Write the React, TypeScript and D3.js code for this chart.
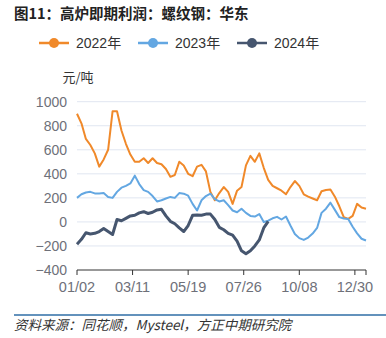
import React from "react";
import * as d3 from "d3";

const title = "图11：高炉即期利润：螺纹钢：华东";
const unitLabel = "元/吨";
const source = "资料来源：同花顺，Mysteel，方正中期研究院";
const xLabels = ["01/02", "03/11", "05/19", "07/26", "10/08", "12/30"];
const xLabelIdx = [0, 50, 100, 150, 200, 250];
const lastIdx = 260;
const step = 4;
const yTicks = [-400, -200, 0, 200, 400, 600, 800, 1000];
const seriesNames = ["2022年", "2023年", "2024年"];

const s2022 = [
  900, 820, 690, 640, 570, 460, 520, 600, 920, 920, 760, 650, 560, 500, 500, 530,
  490, 530, 490, 480, 440, 375, 390, 500, 470, 400, 380, 460, 475, 420, 250, 180,
  240, 290, 250, 150, 260, 290, 470, 550, 500, 570, 450, 350, 300, 280, 260, 230,
  290, 340, 300, 230, 210, 195, 180, 255, 265, 270, 210, 130, 40, 25, 50, 150,
  120, 110,
];
const s2023 = [
  200, 230, 245, 250, 237, 237, 240, 208, 200, 250, 285, 300, 320, 385, 315, 265,
  250, 215, 170, 180, 195, 208, 200, 240, 235, 218, 150, 95, 180, 215, 235, 190,
  170, 180, 140, 95, 80, 110, 75, 50, 45, 65, 0, 10, 30, 42, 20, 45,
  -30, -100, -135, -150, -130, -97, -50, 75, 110, 160, 100, 40, 28, 25, -40, -95,
  -140, -155,
];
const s2024 = [
  -185, -145, -90, -100, -95, -80, -55, -80, -105, 20, 10, 30, 50, 55, 75, 85,
  70, 80, 100, 105, 50, 5, -15, -50, -80, -30, 55, 58, 55, 65, 65, 20,
  -45, -65, -95, -110, -160, -240, -265, -240, -200, -150, -50, 5,
];

const seriesData = [s2022, s2023, s2024];
const colors = ["#f0892a", "#63a7e2", "#46566f"];
const widths = [2, 2, 3];

export default function App() {
  const W = 386;
  const H = 338;
  const x = d3.scaleLinear().domain([0, lastIdx]).range([77, 366]);
  const y = d3.scaleLinear().domain([-400, 1000]).range([270, 101.7]);
  const line = d3
    .line<number>()
    .x((_, i) => x(i * step))
    .y((d) => y(d));
  const tickIdx = [...xLabelIdx, lastIdx];
  const legendX = [39, 138, 237];
  const font = "'Liberation Sans', Arial, 'Noto Sans CJK SC', sans-serif";

  return (
    <svg
      width={W}
      height={H}
      style={{ position: "absolute", left: 0, top: 0, background: "#fff" }}
      fontFamily={font}
    >
      <text x={14} y={19} fontSize={14.5} fontWeight="bold" fill="#222" fontFamily="'Noto Sans CJK SC', sans-serif">
        {title}
      </text>
      {seriesNames.map((n, i) => (
        <g key={n} transform={`translate(${legendX[i]},43)`}>
          <line x1={0} x2={30} y1={0} y2={0} stroke={colors[i]} strokeWidth={2.5} />
          <circle cx={15} cy={0} r={5} fill={colors[i]} />
          <text x={37} y={5} fontSize={14} fill="#333">
            {n}
          </text>
        </g>
      ))}
      <text x={78} y={82} fontSize={13} fill="#333" textAnchor="middle" fontFamily="'Noto Sans CJK SC', sans-serif">
        {unitLabel}
      </text>
      {yTicks.map((t) => (
        <g key={t}>
          {t !== -400 && (
            <line x1={77} x2={366} y1={y(t)} y2={y(t)} stroke="#e0e6f1" strokeWidth={1} />
          )}
          <text x={67} y={y(t) + 5} fontSize={14} fill="#6e7079" textAnchor="end">
            {t < 0 ? "\u2212" + Math.abs(t) : t}
          </text>
        </g>
      ))}
      <line x1={77} x2={366} y1={270} y2={270} stroke="#333" strokeWidth={1} />
      {tickIdx.map((t) => (
        <line key={t} x1={x(t)} x2={x(t)} y1={270} y2={275} stroke="#333" strokeWidth={1} />
      ))}
      {xLabels.map((l, i) => (
        <text key={l} x={x(xLabelIdx[i])} y={292} fontSize={14.5} fill="#6e7079" textAnchor="middle">
          {l}
        </text>
      ))}
      {seriesData.map((d, i) => (
        <path
          key={i}
          d={line(d) || ""}
          fill="none"
          stroke={colors[i]}
          strokeWidth={widths[i]}
          strokeLinejoin="round"
        />
      ))}
      <line x1={14} x2={386} y1={315} y2={315} stroke="#2f6ea6" strokeWidth={1.5} />
      <text x={14} y={330} fontSize={13.5} fill="#333" fontStyle="italic" fontFamily="'Noto Sans CJK SC', serif">
        {source}
      </text>
    </svg>
  );
}
